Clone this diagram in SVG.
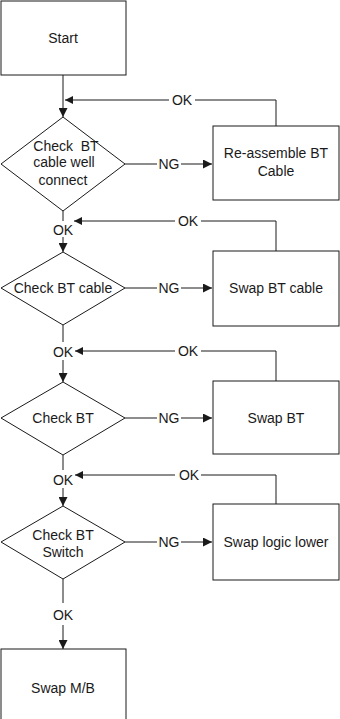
<svg xmlns="http://www.w3.org/2000/svg" width="340" height="719" viewBox="0 0 340 719">
<style>
.box{fill:#fff;stroke:#1a1a1a;stroke-width:1}
.t{font-family:"Liberation Sans",Arial,sans-serif;font-size:14px;fill:#1a1a1a;text-anchor:middle}
.c{fill:none;stroke:#1a1a1a;stroke-width:1}
.bg{fill:#fff}
</style>
<defs>
<marker id="ah" viewBox="0 0 10 10" refX="10" refY="5" markerWidth="9" markerHeight="9" markerUnits="userSpaceOnUse" orient="auto"><path d="M0,0 L10,5 L0,10 z" fill="#1a1a1a"/></marker>
<marker id="ahs" viewBox="0 0 10 10" refX="10" refY="5" markerWidth="8" markerHeight="8" markerUnits="userSpaceOnUse" orient="auto"><path d="M0,0 L10,5 L0,10 z" fill="#1a1a1a"/></marker>
</defs>
<g id="connectors">
<path class="c" d="M63,75 V117" marker-end="url(#ah)"/>
<path class="c" d="M125,164 H212" marker-end="url(#ah)"/>
<path class="c" d="M276,126 V100 H65" marker-end="url(#ahs)"/>
<path class="c" d="M63,211 V252" marker-end="url(#ah)"/>
<path class="c" d="M125,288 H212" marker-end="url(#ah)"/>
<path class="c" d="M276,251 V221 H74" marker-end="url(#ahs)"/>
<path class="c" d="M63,325 V382" marker-end="url(#ah)"/>
<path class="c" d="M276,381 V351 H75" marker-end="url(#ahs)"/>
<path class="c" d="M125,418 H212" marker-end="url(#ah)"/>
<path class="c" d="M63,455 V506" marker-end="url(#ah)"/>
<path class="c" d="M276,504 V475 H75" marker-end="url(#ahs)"/>
<path class="c" d="M125,542 H212" marker-end="url(#ah)"/>
<path class="c" d="M63,579 V649" marker-end="url(#ah)"/>
<rect class="bg" x="157" y="157" width="24" height="14"/><text class="t" x="169" y="169">NG</text>
<rect class="bg" x="157" y="281" width="24" height="14"/><text class="t" x="169" y="293">NG</text>
<rect class="bg" x="157" y="411" width="24" height="14"/><text class="t" x="169" y="423">NG</text>
<rect class="bg" x="157" y="535" width="24" height="14"/><text class="t" x="169" y="547">NG</text>
<rect class="bg" x="169" y="93" width="26" height="14"/><text class="t" x="182" y="105">OK</text>
<rect class="bg" x="175" y="214" width="26" height="14"/><text class="t" x="188" y="226">OK</text>
<rect class="bg" x="175" y="344" width="26" height="14"/><text class="t" x="188" y="356">OK</text>
<rect class="bg" x="175" y="468" width="26" height="14"/><text class="t" x="189" y="480">OK</text>
<rect class="bg" x="52" y="221" width="22" height="16"/><text class="t" x="63" y="235">OK</text>
<rect class="bg" x="52" y="342" width="22" height="18"/><text class="t" x="63" y="357">OK</text>
<rect class="bg" x="52" y="470" width="22" height="18"/><text class="t" x="63" y="485">OK</text>
<rect class="bg" x="52" y="603" width="22" height="22"/><text class="t" x="63" y="620">OK</text>
</g>
<g id="start"><rect class="box" x="1" y="1" width="125" height="74"/><text class="t" x="63" y="43">Start</text></g>
<g id="check1"><polygon class="box" points="63,117 125,164 63,211 1,164"/>
<text class="t" x="66" y="151" style="white-space:pre">Check  BT</text>
<text class="t" x="64" y="167">cable well</text>
<text class="t" x="63" y="185">connect</text></g>
<g id="reassemble"><rect class="box" x="213" y="126" width="126" height="74"/>
<text class="t" x="276" y="158">Re-assemble BT</text><text class="t" x="276" y="176">Cable</text></g>
<g id="check2"><polygon class="box" points="63,252 125,288 63,325 1,288"/><text class="t" x="63" y="293">Check BT cable</text></g>
<g id="swapcable"><rect class="box" x="213" y="251" width="126" height="75"/><text class="t" x="276" y="293">Swap BT cable</text></g>
<g id="check3"><polygon class="box" points="63,382 125,418 63,455 1,418"/><text class="t" x="63" y="423">Check BT</text></g>
<g id="swapbt"><rect class="box" x="213" y="381" width="126" height="73"/><text class="t" x="276" y="423">Swap BT</text></g>
<g id="check4"><polygon class="box" points="63,506 125,542 63,579 1,542"/>
<text class="t" x="63" y="540">Check BT</text><text class="t" x="63" y="557">Switch</text></g>
<g id="swaplogic"><rect class="box" x="213" y="504" width="126" height="76"/><text class="t" x="276" y="547">Swap logic lower</text></g>
<g id="swapmb"><rect class="box" x="1" y="649" width="125" height="75"/><text class="t" x="63" y="693">Swap M/B</text></g>
</svg>
